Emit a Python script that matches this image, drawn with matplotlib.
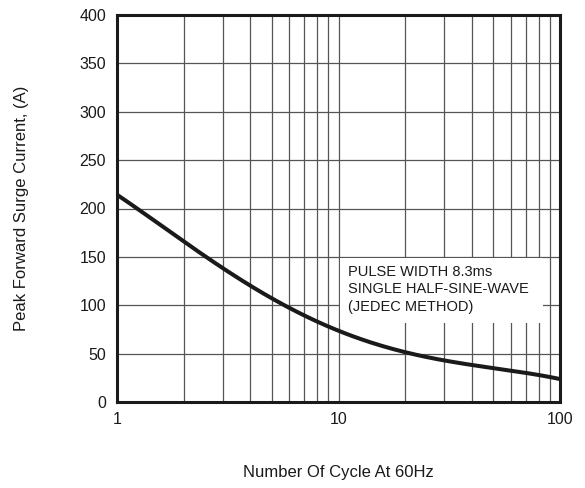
import numpy as np
import matplotlib.pyplot as plt
from matplotlib.ticker import FixedLocator, NullFormatter

# Values
cycles = [1, 2, 3, 4, 6, 10, 20, 30, 50, 100]
surge_current = [214, 167, 138, 120, 97, 73, 53, 43, 34, 24]

x_ticks = [1, 10, 100]
x_tick_labels = ["1", "10", "100"]
y_ticks = [0, 50, 100, 150, 200, 250, 300, 350, 400]

plt.rcParams['font.family'] = ['Liberation Sans', 'DejaVu Sans']

fig = plt.figure(figsize=(5.85, 4.88), dpi=100)
ax = fig.add_axes([117 / 585, 1 - 402 / 488, (560 - 117) / 585, (402 - 15) / 488])

# smooth the curve in log space
lx = np.log10(cycles)
fine = np.linspace(0, 2, 200)
coef = np.polyfit(lx, surge_current, 4)
ax.plot(10 ** fine, np.polyval(coef, fine), color="#1a1a1a", lw=2.9, zorder=3)

ax.set_xscale("log")
ax.set_xlim(1, 100)
ax.set_ylim(0, 400)
ax.xaxis.set_major_locator(FixedLocator(x_ticks))
ax.set_xticklabels(x_tick_labels)
minor = [m * d for d in (1, 10) for m in range(2, 10)]
ax.xaxis.set_minor_locator(FixedLocator(minor))
ax.xaxis.set_minor_formatter(NullFormatter())
ax.set_yticks(y_ticks)

ax.grid(True, which="both", color="#555555", lw=0.9, zorder=1)
ax.tick_params(which="both", length=0, labelsize=11.5, colors="#1a1a1a")
ax.tick_params(axis="x", pad=7)
ax.tick_params(axis="y", pad=8)
for s in ax.spines.values():
    s.set_linewidth(2.2)
    s.set_color("#1a1a1a")
    s.set_zorder(4)

# white note box covering the grid
ax.add_patch(plt.Rectangle((10.2, 82), 84 - 10.2, 67, facecolor="white",
                           edgecolor="none", zorder=2.5))
ax.text(11.0, 142, "PULSE WIDTH 8.3ms\nSINGLE HALF-SINE-WAVE\n(JEDEC METHOD)",
        fontsize=10.5, color="#1a1a1a", va="top", ha="left", linespacing=1.35,
        zorder=2.6)

fig.text(338 / 585, 1 - 473 / 488, "Number Of Cycle At 60Hz", ha="center",
         va="center", fontsize=12, color="#1a1a1a")
fig.text(22 / 585, 1 - 208 / 488, "Peak Forward Surge Current, (A)", ha="center",
         va="center", rotation=90, fontsize=12, color="#1a1a1a")

fig.savefig("out.png", dpi=100)
